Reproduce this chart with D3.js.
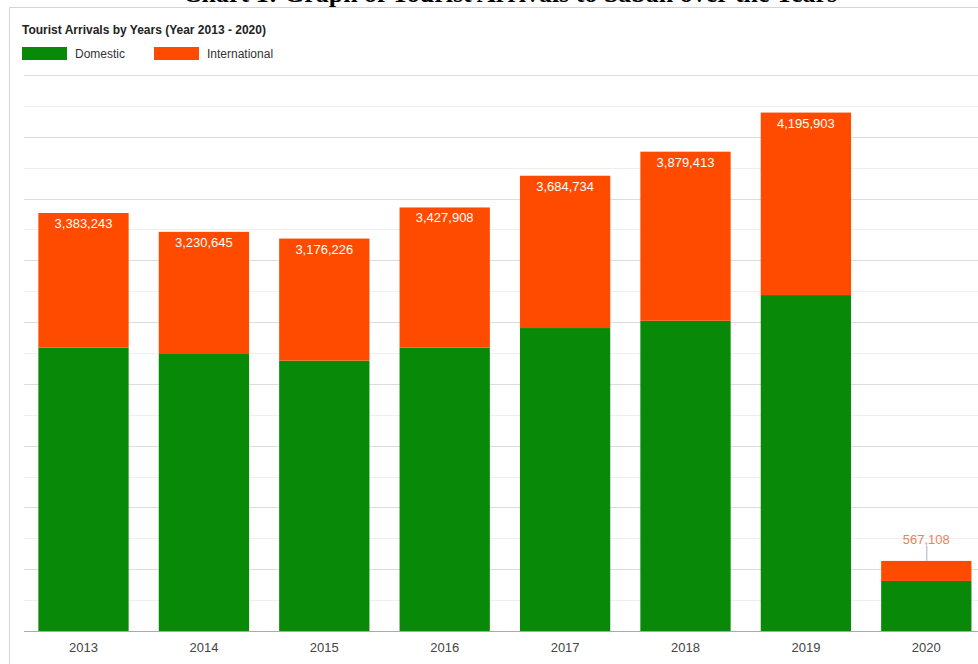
<!DOCTYPE html>
<html>
<head>
<meta charset="UTF-8">
<script src="https://d3js.org/d3.v7.min.js"></script>
<style>
  body { margin: 0; background: #fff; overflow: hidden; }
  svg { display: block; }
  text { font-family: "Liberation Sans", Arial, sans-serif; }
</style>
</head>
<body>
<script>
// data
const years = ["2013", "2014", "2015", "2016", "2017", "2018", "2019", "2020"];
const domestic = [2293000, 2242000, 2188000, 2293000, 2452000, 2511000, 2719000, 405000];
const international = [1090243, 988645, 988226, 1134908, 1232734, 1368413, 1476903, 162108];
const seriesNames = ["Domestic", "International"];
const colors = ["#088a08", "#ff4b00"];
const yTicks = [0, 250000, 500000, 750000, 1000000, 1250000, 1500000, 1750000, 2000000,
  2250000, 2500000, 2750000, 3000000, 3250000, 3500000, 3750000, 4000000, 4250000, 4500000];

const W = 978, H = 664;
const svg = d3.select("body").append("svg")
  .attr("width", W).attr("height", H);

// cut-off heading from the page above the chart
svg.append("text")
  .attr("x", 510).attr("y", 2)
  .attr("text-anchor", "middle")
  .style("font-family", "'Liberation Serif', 'Times New Roman', serif")
  .style("font-weight", "bold")
  .style("font-size", "26px")
  .attr("fill", "#000")
  .text("Chart 1: Graph of Tourist Arrivals to Sabah over the Years");

// card border (top and left only, the rest is cropped)
svg.append("rect").attr("x", 10).attr("y", 8).attr("width", W).attr("height", H).attr("fill", "#fff");
svg.append("line").attr("x1", 9.5).attr("x2", W).attr("y1", 7.5).attr("y2", 7.5).attr("stroke", "#d4d4d4");
svg.append("line").attr("x1", 9.5).attr("x2", 9.5).attr("y1", 7.5).attr("y2", H).attr("stroke", "#d4d4d4");

svg.append("text")
  .attr("x", 22).attr("y", 34)
  .style("font-size", "12px").style("font-weight", "bold")
  .attr("fill", "#222")
  .text("Tourist Arrivals by Years (Year 2013 - 2020)");

// legend
const legX = [22, 154];
seriesNames.forEach((n, i) => {
  svg.append("rect").attr("x", legX[i]).attr("y", 47)
    .attr("width", 45).attr("height", 13).attr("fill", colors[i]);
  svg.append("text").attr("x", legX[i] + 53).attr("y", 58)
    .style("font-size", "12px").attr("fill", "#333").text(n);
});

const x = d3.scaleBand().domain(years).range([23.3, 986.5]).paddingInner(0.25).paddingOuter(0.125);
const y = d3.scaleLinear().domain([0, 4500000]).range([631, 75]);

// gridlines
svg.append("g").selectAll("line").data(yTicks.slice(1)).join("line")
  .attr("x1", 24).attr("x2", W)
  .attr("y1", d => Math.round(y(d)) + 0.5).attr("y2", d => Math.round(y(d)) + 0.5)
  .attr("stroke", d => d % 500000 === 0 ? "#dcdcdc" : "#efefef");

const rows = years.map((yr, i) => ({ year: yr, Domestic: domestic[i], International: international[i] }));
const stacked = d3.stack().keys(seriesNames)(rows);

svg.append("g").selectAll("g").data(stacked).join("g")
  .attr("fill", (d, i) => colors[i])
  .selectAll("rect").data(d => d).join("rect")
  .attr("x", d => x(d.data.year))
  .attr("width", x.bandwidth())
  .attr("y", d => y(d[1]))
  .attr("height", d => y(d[0]) - y(d[1]));

// baseline axis
svg.append("line").attr("x1", 24).attr("x2", W)
  .attr("y1", 631.5).attr("y2", 631.5).attr("stroke", "#aaa");

const xAxis = svg.append("g").attr("transform", "translate(0,631)")
  .call(d3.axisBottom(x).tickSize(0).tickPadding(12));
xAxis.select(".domain").remove();
xAxis.selectAll("text").style("font-size", "13px").attr("fill", "#444")
  .style("font-family", "'Liberation Sans', Arial, sans-serif");

// total labels
const fmt = d3.format(",");
const topLayer = stacked[stacked.length - 1];
topLayer.forEach(d => {
  const cx = x(d.data.year) + x.bandwidth() / 2;
  const h = y(d[0]) - y(d[1]);
  if (h > 30) {
    svg.append("text").attr("x", cx).attr("y", y(d[1]) + 15)
      .attr("text-anchor", "middle").style("font-size", "13px")
      .attr("fill", "#fff").text(fmt(d[1]));
  } else {
    svg.append("line").attr("x1", cx + 0.5).attr("x2", cx + 0.5)
      .attr("y1", y(d[1]) - 15).attr("y2", y(d[1]))
      .attr("stroke", "#9fb4c8");
    svg.append("text").attr("x", cx).attr("y", y(d[1]) - 17)
      .attr("text-anchor", "middle").style("font-size", "13px")
      .attr("fill", "#f0805a").text(fmt(d[1]));
  }
});
</script>
</body>
</html>
